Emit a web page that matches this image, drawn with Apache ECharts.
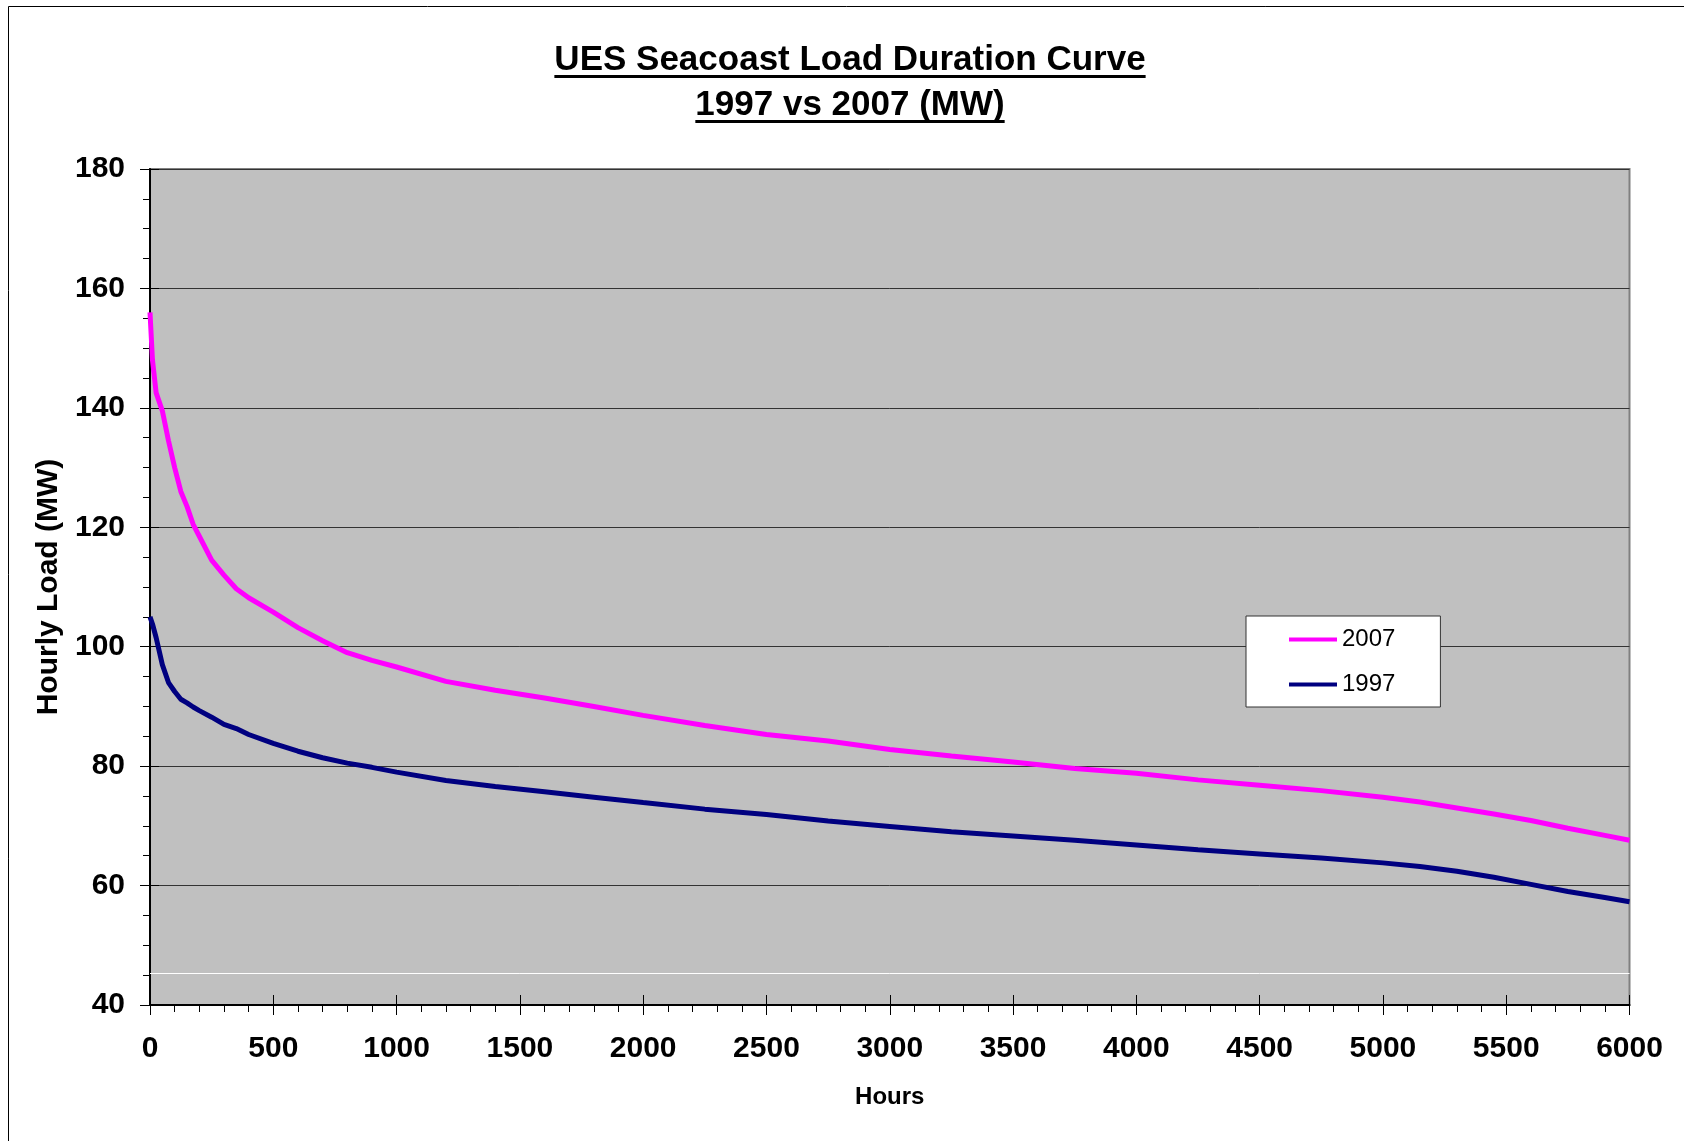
<!DOCTYPE html>
<html>
<head>
<meta charset="utf-8">
<script src="https://cdn.jsdelivr.net/npm/echarts@6/dist/echarts.min.js"></script>
<style>
  html, body { margin: 0; padding: 0; background: #fff; }
  #chart { width: 1684px; height: 1141px; }
</style>
</head>
<body>
<div id="chart"></div>
<script>
// hours on the duration curve, and hourly load (MW)
var hours = [0, 10, 25, 50, 75, 100, 125, 150, 175, 200, 250, 300, 350, 400, 500, 600, 700, 800, 900, 1000,
  1200, 1400, 1600, 1800, 2000, 2250, 2500, 2750, 3000, 3250, 3500, 3750, 4000, 4250, 4500, 4750, 5000,
  5150, 5300, 5450, 5600, 5750, 5900, 6000];
var load2007 = [156, 148, 142.5, 139.5, 134.5, 130, 126, 123.5, 120.5, 118.5, 114.5, 112, 109.7, 108.2, 105.8, 103.2, 101.0, 99.0, 97.7, 96.6,
  94.2, 92.7, 91.4, 90.0, 88.5, 86.8, 85.3, 84.2, 82.8, 81.7, 80.7, 79.6, 78.8, 77.7, 76.8, 75.9, 74.8,
  74.0, 73.0, 72.0, 70.9, 69.6, 68.4, 67.6];
var load1997 = [105, 103.8, 101.5, 97, 94, 92.5, 91.2, 90.6, 89.9, 89.3, 88.2, 87.0, 86.3, 85.3, 83.8, 82.5, 81.4, 80.5, 79.8, 79.0,
  77.6, 76.6, 75.7, 74.8, 73.9, 72.8, 71.9, 70.8, 69.9, 69.0, 68.3, 67.6, 66.8, 66.0, 65.3, 64.6, 63.8,
  63.2, 62.4, 61.4, 60.2, 59.0, 58.0, 57.3];
var seriesNames = ['2007', '1997'];
var whiteLine = 45.4;
var titleLines = ['UES Seacoast Load Duration Curve', '1997 vs 2007 (MW)'];

var FONT = '"Liberation Sans", Arial, sans-serif';

function pairs(xs, ys) {
  return xs.map(function (x, i) { return [x, ys[i]]; });
}

// measure title text so the underline fits it
var ctx = document.createElement('canvas').getContext('2d');
ctx.font = 'bold 35px ' + FONT;
var titleCx = 850;
var titleY = [60, 105];
var titleEls = [];
titleLines.forEach(function (t, i) {
  var w = ctx.measureText(t).width;
  titleEls.push({
    type: 'text', x: titleCx, y: titleY[i],
    style: { text: t, font: 'bold 35px ' + FONT, fill: '#000', align: 'center', verticalAlign: 'middle' }
  });
  titleEls.push({
    type: 'rect', shape: { x: titleCx - w / 2, y: titleY[i] + 15, width: w, height: 3 },
    style: { fill: '#000' }
  });
});

var chart = echarts.init(document.getElementById('chart'));

var labelStyle = { fontFamily: FONT, fontWeight: 'bold', fontSize: 30, color: '#000' };

var option = {
  animation: false,
  backgroundColor: '#fff',
  graphic: [
    { type: 'rect', shape: { x: 8.5, y: 6.5, width: 1700, height: 1200 }, style: { fill: 'none', stroke: '#000', lineWidth: 1 } }
  ].concat(titleEls),
  legend: {
    data: seriesNames,
    orient: 'vertical',
    left: 1246,
    top: 616,
    backgroundColor: '#fff',
    borderColor: '#333',
    borderWidth: 1,
    padding: [11, 45, 10, 43],
    itemGap: 20,
    itemWidth: 48,
    itemHeight: 4,
    icon: 'rect',
    textStyle: { fontFamily: FONT, fontSize: 24, color: '#000', lineHeight: 25 }
  },
  grid: {
    left: 150, right: 54.5, top: 169, bottom: 136,
    show: true, backgroundColor: '#C0C0C0', borderColor: '#808080', borderWidth: 2
  },
  xAxis: [{
    type: 'value', min: 0, max: 6000, interval: 500,
    name: 'Hours', nameLocation: 'middle', nameGap: 80,
    nameTextStyle: { fontFamily: FONT, fontWeight: 'bold', fontSize: 24, color: '#000' },
    axisLine: { show: true, onZero: false, lineStyle: { color: '#000', width: 2 } },
    axisTick: { show: true, length: 10, lineStyle: { color: '#000', width: 1 } },
    minorTick: { show: true, splitNumber: 5, length: 7, lineStyle: { color: '#000', width: 1 } },
    axisLabel: Object.assign({ margin: 29, formatter: function (v) { return String(v); } }, labelStyle),
    splitLine: { show: false }
  }, {
    type: 'value', min: 0, max: 6000, interval: 500, position: 'bottom',
    axisLine: { show: false },
    axisTick: { show: true, inside: true, length: 10, lineStyle: { color: '#000', width: 1 } },
    axisLabel: { show: false },
    splitLine: { show: false }
  }],
  yAxis: [{
    type: 'value', min: 40, max: 180, interval: 20,
    name: 'Hourly Load (MW)', nameLocation: 'middle', nameGap: 86,
    nameTextStyle: { fontFamily: FONT, fontWeight: 'bold', fontSize: 30, color: '#000' },
    axisLine: { show: true, onZero: false, lineStyle: { color: '#000', width: 2 } },
    axisTick: { show: true, length: 10, lineStyle: { color: '#000', width: 1 } },
    minorTick: { show: true, splitNumber: 4, length: 7, lineStyle: { color: '#000', width: 1 } },
    axisLabel: Object.assign({ margin: 25 }, labelStyle),
    splitLine: { show: true, lineStyle: { color: '#333', width: 1 } }
  }, {
    type: 'value', min: 40, max: 180, interval: 20, position: 'left',
    axisLine: { show: false },
    axisTick: { show: true, inside: true, length: 9, lineStyle: { color: '#000', width: 1 } },
    axisLabel: { show: false },
    splitLine: { show: false }
  }],
  series: [{
    name: seriesNames[0],
    type: 'line',
    data: pairs(hours, load2007),
    showSymbol: false,
    symbol: 'none',
    lineStyle: { color: '#FF00FF', width: 5 },
    itemStyle: { color: '#FF00FF' },
    z: 3
  }, {
    name: seriesNames[1],
    type: 'line',
    data: pairs(hours, load1997),
    showSymbol: false,
    symbol: 'none',
    lineStyle: { color: '#000080', width: 5 },
    itemStyle: { color: '#000080' },
    z: 3,
    markLine: {
      silent: true,
      symbol: 'none',
      label: { show: false },
      lineStyle: { color: '#fff', width: 1, type: 'solid' },
      data: [{ yAxis: whiteLine }]
    }
  }]
};

chart.setOption(option);
</script>
</body>
</html>
